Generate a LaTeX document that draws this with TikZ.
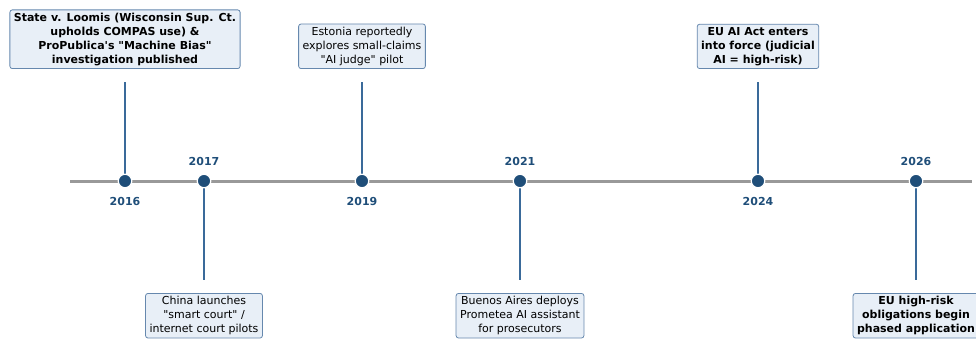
\documentclass[tikz,border=0pt]{standalone}
\usepackage{fontspec}
\setmainfont{DejaVu Sans}[Ligatures=TeXOff]

\definecolor{dotblue}{HTML}{1F4E79}
\definecolor{stemblue}{HTML}{3A6A9A}
\definecolor{boxfill}{HTML}{E8EFF7}
\definecolor{boxedge}{HTML}{6688AE}
\definecolor{axisgray}{HTML}{999999}

\tikzset{
  event/.style={draw=boxedge, fill=boxfill, rounded corners=2.5pt, line width=0.8pt,
    align=center, inner xsep=4pt, inner ysep=3pt, font=\fontsize{11}{14}\selectfont},
  stem/.style={draw=stemblue, line width=1.2pt, shorten >=13pt},
  dot/.style={circle, fill=dotblue, draw=white, line width=1.2pt, inner sep=0pt, minimum size=13.5pt},
  year/.style={text=dotblue, font=\fontsize{11}{13}\selectfont\bfseries}
}

\begin{document}
\begin{tikzpicture}[x=1pt,y=1pt]
  \useasboundingbox (0,0) rectangle (976,338);

  % event boxes
  \node[event, font=\fontsize{11}{14}\selectfont\bfseries, anchor=south] (b2016) at (125,269)
    {State v. Loomis (Wisconsin Sup. Ct.\\upholds COMPAS use) \&\\ProPublica's "Machine Bias"\\investigation published};
  \node[event, anchor=north] (b2017) at (204,45)
    {China launches\\"smart court" /\\internet court pilots};
  \node[event, anchor=south] (b2019) at (362,269)
    {Estonia reportedly\\explores small-claims\\"AI judge" pilot};
  \node[event, anchor=north] (b2021) at (520,45)
    {Buenos Aires deploys\\Prometea AI assistant\\for prosecutors};
  \node[event, font=\fontsize{11}{14}\selectfont\bfseries, anchor=south] (b2024) at (758,269)
    {EU AI Act enters\\into force (judicial\\AI = high-risk)};
  \node[event, font=\fontsize{11}{14}\selectfont\bfseries, anchor=north] (b2026) at (916,45)
    {EU high-risk\\obligations begin\\phased application};

  %draw axis
  \coordinate (start) at (70,157);
  \coordinate (end) at (972,157);
  \draw[axisgray, line width=3pt] (start) -- (end);

  % stems, dots and years
  \foreach \x/\yr/\dy in {125/2016/-1, 204/2017/1, 362/2019/-1, 520/2021/1, 758/2024/-1, 916/2026/1} {
    \coordinate (p\yr) at (\x,157);
    \draw[stem] (p\yr) -- (b\yr);
    \node[dot] (d\yr) at (p\yr) {};
    \node[year] (y\yr) at (\x,157+\dy*20) {\yr};
  }
\end{tikzpicture}
\end{document}
